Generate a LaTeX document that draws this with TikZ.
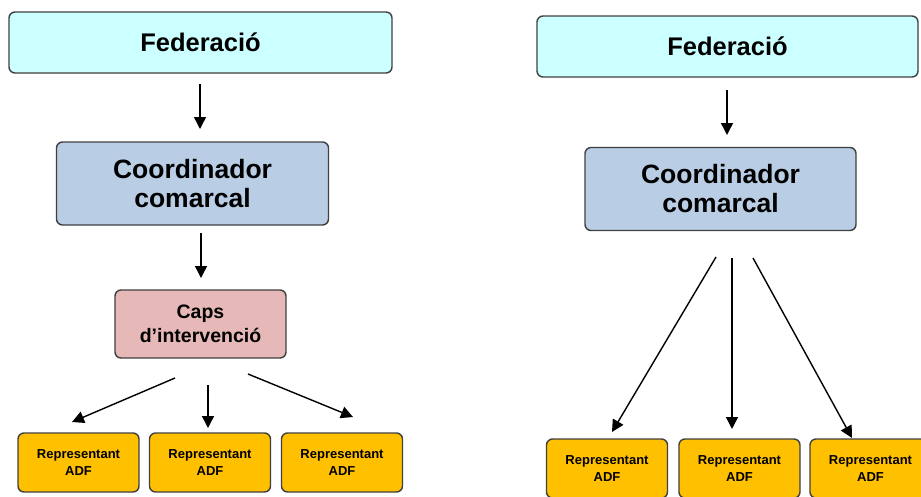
\documentclass[tikz,border=0pt]{standalone}
\usepackage{fontspec}
\setmainfont{Liberation Sans}
\usetikzlibrary{arrows.meta}
\definecolor{fedc}{HTML}{CCFFFF}
\definecolor{coordc}{HTML}{B9CDE5}
\definecolor{capsc}{HTML}{E6B9B8}
\definecolor{repc}{HTML}{FFC000}
\definecolor{edgec}{HTML}{404040}
\begin{document}
\begin{tikzpicture}[x=1pt,y=-1pt,
  boxbase/.style={draw=edgec,line width=1.4pt,rounded corners=6pt,inner sep=0pt,align=center,font=\bfseries},
  fedbox/.style={boxbase,fill=fedc,minimum width=383pt,minimum height=61pt,font=\bfseries\fontsize{25.5}{30}\selectfont},
  coordbox/.style={boxbase,fill=coordc,minimum width=272pt,minimum height=83pt,font=\bfseries\fontsize{26.5}{29}\selectfont},
  capsbox/.style={boxbase,fill=capsc,minimum width=171pt,minimum height=68pt,font=\bfseries\fontsize{19.5}{24}\selectfont},
  repbox/.style={boxbase,fill=repc,minimum width=121pt,minimum height=59pt,font=\bfseries\fontsize{13}{17}\selectfont},
  arr/.style={line width=1.4pt,-{Triangle[length=12pt,width=12pt]}}
]
\useasboundingbox (0,0) rectangle (921,496);
% left
\node[fedbox] (fedL) at (200.5,42.5) {Federació};
\node[coordbox] (coordL) at (192.5,183.5) {Coordinador\\comarcal};
\node[capsbox] (caps) at (200.5,324) {Caps\\d’intervenció};
\node[repbox] (rL1) at (78.5,462.5) {Representant\\ADF};
\node[repbox] (rL2) at (210,462.5) {Representant\\ADF};
\node[repbox] (rL3) at (342,462.5) {Representant\\ADF};
\coordinate (a1s) at (200,84); \coordinate (a1e) at (200,129);
\coordinate (a2s) at (201,233); \coordinate (a2e) at (201,278);
\coordinate (b1s) at (175,378); \coordinate (b1e) at (72,422);
\coordinate (b2s) at (208,385); \coordinate (b2e) at (208,428);
\coordinate (b3s) at (248,374); \coordinate (b3e) at (353,417);
\draw[arr] (a1s) -- (a1e);
\draw[arr] (a2s) -- (a2e);
\draw[arr] (b1s) -- (b1e);
\draw[arr] (b2s) -- (b2e);
\draw[arr] (b3s) -- (b3e);
% right
\node[fedbox,minimum width=381pt] (fedR) at (727.5,46.5) {Federació};
\node[coordbox,minimum width=271pt] (coordR) at (720.5,189) {Coordinador\\comarcal};
\node[repbox] (rR1) at (607,468.5) {Representant\\ADF};
\node[repbox] (rR2) at (739.5,468.5) {Representant\\ADF};
\node[repbox] (rR3) at (870.5,468.5) {Representant\\ADF};
\coordinate (c1s) at (727,90); \coordinate (c1e) at (727,135);
\coordinate (d1s) at (716,257); \coordinate (d1e) at (612,432);
\coordinate (d2s) at (732,258); \coordinate (d2e) at (732,429);
\coordinate (d3s) at (753,258); \coordinate (d3e) at (852,438);
\draw[arr] (c1s) -- (c1e);
\draw[arr] (d1s) -- (d1e);
\draw[arr] (d2s) -- (d2e);
\draw[arr] (d3s) -- (d3e);
\end{tikzpicture}
\end{document}
